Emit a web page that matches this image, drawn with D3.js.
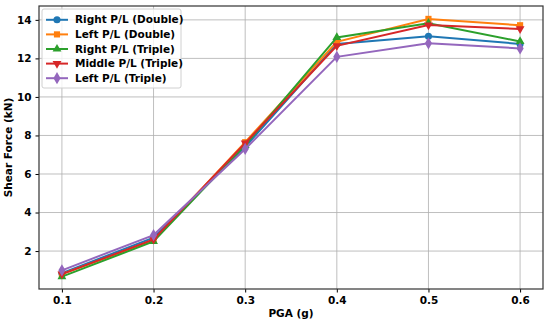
<!DOCTYPE html>
<html>
<head>
<meta charset="utf-8">
<script src="https://cdn.jsdelivr.net/npm/d3@7"></script>
<style>
  body { margin: 0; background: #fff; }
  text { font-family: "DejaVu Sans", sans-serif; font-weight: bold; }
</style>
</head>
<body>
<svg id="vis" width="550" height="323"></svg>
<script>
let pga = [0.1, 0.2, 0.3, 0.4, 0.5, 0.6];
let rightDouble = [0.85, 2.7, 7.4, 12.75, 13.15, 12.75];
let leftDouble = [0.8, 2.55, 7.65, 12.86, 14.05, 13.72];
let rightTriple = [0.67, 2.5, 7.5, 13.09, 13.83, 12.88];
let middleTriple = [0.8, 2.6, 7.6, 12.65, 13.73, 13.53];
let leftTriple = [1.0, 2.83, 7.3, 12.08, 12.78, 12.52];
let yTicks = [2, 4, 6, 8, 10, 12, 14];

let series = [
  { name: "Right P/L (Double)", values: rightDouble, color: "#1f77b4", symbol: d3.symbolCircle, size: 40 },
  { name: "Left P/L (Double)", values: leftDouble, color: "#ff7f0e", symbol: d3.symbolSquare, size: 38 },
  { name: "Right P/L (Triple)", values: rightTriple, color: "#2ca02c", symbol: d3.symbolTriangle, size: 34, rot: 0 },
  { name: "Middle P/L (Triple)", values: middleTriple, color: "#d62728", symbol: d3.symbolTriangle, size: 34, rot: 180 },
  { name: "Left P/L (Triple)", values: leftTriple, color: "#9467bd", symbol: d3.symbolDiamond, size: 44 }
];

let svg = d3.select("#vis");
let margin = { left: 39, right: 543, top: 6, bottom: 289 };

let x = d3.scaleLinear().domain([0.075, 0.625]).range([margin.left, margin.right]);
let y = d3.scaleLinear().domain([0.03, 14.72]).range([margin.bottom, margin.top]);

// grid
svg.append("g").selectAll("line").data(pga).enter().append("line")
  .attr("x1", d => x(d)).attr("x2", d => x(d))
  .attr("y1", margin.top).attr("y2", margin.bottom)
  .attr("stroke", "#b0b0b0").attr("stroke-width", 1).attr("opacity", 0.8);
svg.append("g").selectAll("line").data(yTicks).enter().append("line")
  .attr("y1", d => y(d)).attr("y2", d => y(d))
  .attr("x1", margin.left).attr("x2", margin.right)
  .attr("stroke", "#b0b0b0").attr("stroke-width", 1).attr("opacity", 0.8);

// axes
let xAxis = svg.append("g").attr("transform", `translate(0,${margin.bottom})`)
  .call(d3.axisBottom(x).tickValues(pga).tickFormat(d3.format(".1f")).tickSize(3.5).tickPadding(4));
let yAxis = svg.append("g").attr("transform", `translate(${margin.left},0)`)
  .call(d3.axisLeft(y).tickValues(yTicks).tickSize(3.5).tickPadding(4));
[xAxis, yAxis].forEach(a => {
  a.select(".domain").remove();
  a.selectAll("text").style("font-size", "10.5px").attr("fill", "#000");
  a.selectAll("line").attr("stroke", "#000").attr("stroke-width", 1);
});

svg.append("rect")
  .attr("x", margin.left).attr("y", margin.top)
  .attr("width", margin.right - margin.left).attr("height", margin.bottom - margin.top)
  .attr("fill", "none").attr("stroke", "#333").attr("stroke-width", 1.2);

// lines
let line = d3.line().x((d, i) => x(pga[i])).y(d => y(d));
series.forEach(s => {
  let g = svg.append("g");
  g.append("path").datum(s.values).attr("d", line)
    .attr("fill", "none").attr("stroke", s.color).attr("stroke-width", 2);
  g.selectAll("path.m").data(s.values).enter().append("path").attr("class", "m")
    .attr("d", d3.symbol().type(s.symbol).size(s.size))
    .attr("transform", (d, i) => `translate(${x(pga[i])},${y(d)}) rotate(${s.rot || 0})`)
    .attr("fill", s.color);
});

// legend
let legend = svg.append("g").attr("transform", "translate(42,9)");
legend.append("rect").attr("width", 139).attr("height", 79).attr("rx", 2)
  .attr("fill", "#fff").attr("fill-opacity", 0.8).attr("stroke", "#d0d0d0").attr("stroke-width", 1);
series.forEach((s, i) => {
  let yy = 10.8 + i * 14.6;
  legend.append("line").attr("x1", 4).attr("x2", 26).attr("y1", yy).attr("y2", yy)
    .attr("stroke", s.color).attr("stroke-width", 2);
  legend.append("path").attr("d", d3.symbol().type(s.symbol).size(s.size))
    .attr("transform", `translate(15,${yy}) rotate(${s.rot || 0})`).attr("fill", s.color);
  legend.append("text").attr("x", 33).attr("y", yy).attr("dy", "0.35em")
    .style("font-size", "10.5px").text(s.name);
});

// labels
svg.append("text").attr("x", (margin.left + margin.right) / 2).attr("y", 317)
  .attr("text-anchor", "middle").style("font-size", "10.5px").text("PGA (g)");
svg.append("text").attr("transform", `translate(12,${(margin.top + margin.bottom) / 2}) rotate(-90)`)
  .attr("text-anchor", "middle").style("font-size", "10.5px").text("Shear Force (kN)");
</script>
</body>
</html>
